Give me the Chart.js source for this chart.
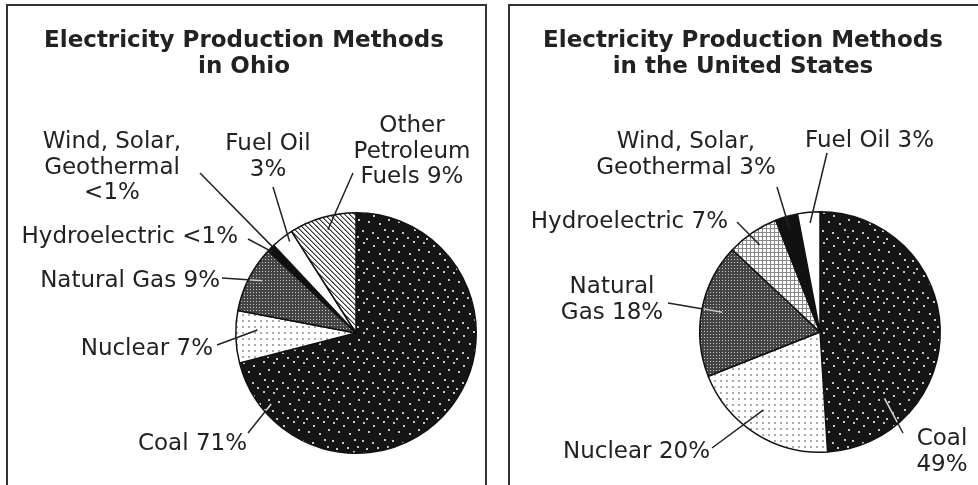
<!DOCTYPE html>
<html>
<head>
<meta charset="utf-8">
<script src="https://cdn.jsdelivr.net/npm/chart.js@4.4.1/dist/chart.umd.min.js"></script>
<style>
html, body { margin: 0; padding: 0; background: #fff; overflow: hidden; }
body { width: 978px; height: 485px; position: relative; }
.frame { position: absolute; top: 4px; height: 600px; border: 2px solid #333; }
canvas { position: absolute; top: 0; }
</style>
</head>
<body>
<div class="frame" style="left:6px;width:477px"></div>
<div class="frame" style="left:508px;width:600px"></div>
<canvas id="ohio" width="490" height="485" style="left:0"></canvas>
<canvas id="us" width="488" height="485" style="left:490px"></canvas>
<script>
// data
const ohioMethods = ['Coal', 'Nuclear', 'Natural Gas', 'Hydroelectric', 'Wind, Solar, Geothermal', 'Fuel Oil', 'Other Petroleum Fuels']
const ohioShares = [71, 7, 9, 0.5, 0.5, 3, 9]
const usMethods = ['Coal', 'Nuclear', 'Natural Gas', 'Hydroelectric', 'Wind, Solar, Geothermal', 'Fuel Oil']
const usShares = [49, 20, 18, 7, 3, 3]

const pct = (v) => (v < 1 ? '<1%' : v + '%')

// fill patterns
function tile(w, h, draw) {
	const c = document.createElement('canvas')
	c.width = w
	c.height = h
	const g = c.getContext('2d')
	draw(g)
	return g.createPattern(c, 'repeat')
}

const patterns = {
	coal: tile(30, 30, (g) => {
		g.fillStyle = '#151515'
		g.fillRect(0, 0, 30, 30)
		g.fillStyle = '#c8c8c8'
		const dots = [[3, 2], [13, 5], [23, 1], [8, 11], [19, 13], [28, 9], [2, 20], [12, 22], [24, 19], [6, 28], [17, 27], [27, 26]]
		dots.forEach(([x, y]) => g.fillRect(x, y, 2, 2))
	}),
	nuclear: tile(6, 6, (g) => {
		g.fillStyle = '#fff'
		g.fillRect(0, 0, 6, 6)
		g.fillStyle = '#aaa'
		g.fillRect(2, 2, 2, 2)
	}),
	gas: tile(3, 3, (g) => {
		g.fillStyle = '#444'
		g.fillRect(0, 0, 3, 3)
		g.fillStyle = '#c8c8c8'
		g.fillRect(1, 1, 1, 1)
	}),
	grid: tile(4, 4, (g) => {
		g.fillStyle = '#fff'
		g.fillRect(0, 0, 4, 4)
		g.fillStyle = '#888'
		g.fillRect(0, 0, 4, 1)
		g.fillRect(0, 0, 1, 4)
	}),
	hatch: tile(5, 5, (g) => {
		g.fillStyle = '#fff'
		g.fillRect(0, 0, 5, 5)
		for (let i = 0; i < 5; i++) {
			g.fillStyle = '#333'
			g.fillRect(i, i, 1, 1)
			g.fillStyle = '#999'
			g.fillRect((i + 1) % 5, i, 1, 1)
		}
	}),
}

// label layout: text lines, first baseline, alignment, outer end of leader,
// and where the leader meets the slice (fraction of angle span, fraction of radius)
const ohioLabels = [
	{ lines: ['Coal {p}'], x: 247, y: 450, align: 'right', from: [248, 433], t: 0.9, rf: 0.92, inner: '#ddd' },
	{ lines: ['Nuclear {p}'], x: 213, y: 355, align: 'right', from: [217, 345], t: 0.64, rf: 0.82 },
	{ lines: ['Natural Gas {p}'], x: 220, y: 287, align: 'right', from: [222, 278], t: 0.57, rf: 0.89, inner: '#ccc' },
	{ lines: ['Hydroelectric {p}'], x: 238, y: 243, align: 'right', from: [248, 239], t: 0.5, rf: 0.97 },
	{ lines: ['Wind, Solar,', 'Geothermal', '{p}'], x: 112, y: 148, align: 'center', from: [200, 173], t: 0.5, rf: 1.0 },
	{ lines: ['Fuel Oil', '{p}'], x: 268, y: 150, align: 'center', from: [273, 187], t: 0.67, rf: 0.94 },
	{ lines: ['Other', 'Petroleum', 'Fuels {p}'], x: 412, y: 132, align: 'center', from: [353, 173], t: 0.53, rf: 0.89 },
]
const usLabels = [
	{ lines: ['Coal', '{p}'], x: 452, y: 445, align: 'center', from: [413, 433], t: 0.77, rf: 0.77, inner: '#ddd' },
	{ lines: ['Nuclear {p}'], x: 220, y: 458, align: 'right', from: [222, 448], t: 0.55, rf: 0.8 },
	{ lines: ['Natural', 'Gas {p}'], x: 122, y: 293, align: 'center', from: [178, 303], t: 0.51, rf: 0.83, inner: '#ccc' },
	{ lines: ['Hydroelectric {p}'], x: 238, y: 228, align: 'right', from: [247, 222], t: 0.48, rf: 0.88 },
	{ lines: ['Wind, Solar,', 'Geothermal {p}'], x: 196, y: 148, align: 'center', from: [287, 187], t: 0.48, rf: 0.89 },
	{ lines: ['Fuel Oil {p}'], x: 315, y: 147, align: 'left', from: [337, 153], t: 0.52, rf: 0.91 },
]

const labelFont = '23px "DejaVu Sans"'
const titleFont = 'bold 23px "DejaVu Sans"'
const ink = '#222'

const calloutPlugin = {
	id: 'callouts',
	afterDatasetsDraw(chart, args, opts) {
		const ctx = chart.ctx
		const meta = chart.getDatasetMeta(0)
		const values = chart.data.datasets[0].data
		ctx.save()
		meta.data.forEach((arc, i) => {
			const lab = opts.labels[i]
			const { x, y, startAngle, endAngle, outerRadius } = arc.getProps(['x', 'y', 'startAngle', 'endAngle', 'outerRadius'], true)
			const a = startAngle + lab.t * (endAngle - startAngle)
			const px = x + Math.cos(a) * lab.rf * outerRadius
			const py = y + Math.sin(a) * lab.rf * outerRadius

			ctx.lineWidth = 1.5
			ctx.strokeStyle = ink
			ctx.beginPath()
			ctx.moveTo(lab.from[0], lab.from[1])
			ctx.lineTo(px, py)
			ctx.stroke()
			if (lab.inner) {
				ctx.save()
				ctx.beginPath()
				ctx.arc(x, y, outerRadius - 1.5, 0, Math.PI * 2)
				ctx.clip()
				ctx.strokeStyle = lab.inner
				ctx.beginPath()
				ctx.moveTo(lab.from[0], lab.from[1])
				ctx.lineTo(px, py)
				ctx.stroke()
				ctx.restore()
			}

			ctx.fillStyle = ink
			ctx.font = labelFont
			ctx.textAlign = lab.align
			ctx.textBaseline = 'alphabetic'
			lab.lines.forEach((line, k) => {
				ctx.fillText(line.replace('{p}', pct(values[i])), lab.x, lab.y + k * 25.5)
			})
		})

		ctx.font = titleFont
		ctx.textAlign = 'center'
		opts.title.lines.forEach((line, k) => {
			ctx.fillText(line, opts.title.x, 47 + k * 26)
		})
		ctx.restore()
	},
}

function makePie(id, methods, shares, fills, labels, title, padding) {
	const ctx = document.getElementById(id).getContext('2d')
	return new Chart(ctx, {
		type: 'pie',
		data: {
			labels: methods,
			datasets: [{
				data: shares,
				backgroundColor: fills,
				borderColor: '#111',
				borderWidth: 1.5,
			}],
		},
		options: {
			responsive: false,
			animation: false,
			layout: { padding },
			plugins: {
				legend: { display: false },
				tooltip: { enabled: false },
				callouts: { labels, title },
			},
		},
		plugins: [calloutPlugin],
	})
}

makePie('ohio', ohioMethods, ohioShares,
	[patterns.coal, patterns.nuclear, patterns.gas, '#111', '#111', '#fff', patterns.hatch],
	ohioLabels,
	{ lines: ['Electricity Production Methods', 'in Ohio'], x: 244 },
	{ left: 235, right: 13, top: 212, bottom: 31 })

makePie('us', usMethods, usShares,
	[patterns.coal, patterns.nuclear, patterns.gas, patterns.grid, '#111', '#fff'],
	usLabels,
	{ lines: ['Electricity Production Methods', 'in the United States'], x: 253 },
	{ left: 209, right: 37, top: 211, bottom: 32 })
</script>
</body>
</html>
